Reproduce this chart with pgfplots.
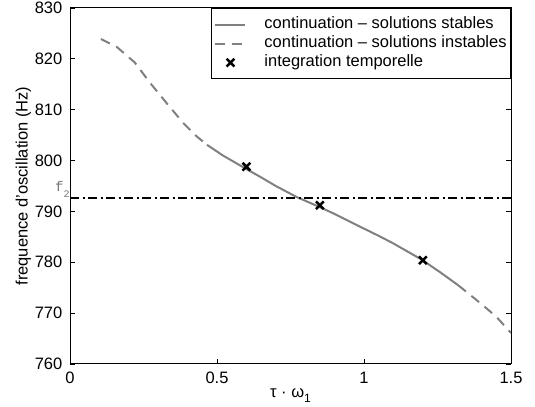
\documentclass[border=0pt]{standalone}
\usepackage{fontspec}
\setmainfont{Liberation Sans}
\newfontfamily\monofont{Liberation Mono}
\usepackage{pgfplots}
\pgfplotsset{compat=1.18}
\definecolor{cgray}{RGB}{128,128,128}
\pgfplotsset{
  lineleg/.style={legend image code/.code={\draw[##1] (0bp,0bp) -- (30bp,0bp); \path[draw=none] (0bp,0bp) -- (48bp,0bp);}},
  markleg/.style={legend image code/.code={\draw[##1] plot coordinates {(15bp,0bp)}; \path[draw=none] (0bp,0bp) -- (48bp,0bp);}},
}
\begin{document}
\fontsize{16.5bp}{19bp}\selectfont
\begin{tikzpicture}
\begin{axis}[
  scale only axis,
  width=441bp, height=356bp,
  xmin=0, xmax=1.5, ymin=760, ymax=830,
  xtick={0,0.5,1,1.5}, ytick={760,770,...,830},
  xticklabels={0,0.5,1,1.5},
  yticklabels={760,770,780,790,800,810,820,830},
  tick label style={font=\fontsize{16.5bp}{19bp}\selectfont},
  xticklabel style={yshift=-2.5bp},
  yticklabel style={xshift=-2bp},
  tick align=inside, tick pos=both,
  major tick length=5bp,
  axis line style={line width=1bp},
  every tick/.style={black, line width=0.8bp},
  xlabel={τ · ω\raisebox{-5bp}{\fontsize{12bp}{13bp}\selectfont 1}},
  ylabel={frequence d'oscillation (Hz)},
  label style={font=\fontsize{16.5bp}{19bp}\selectfont},
  xlabel style={at={(axis description cs:0.5,-0.093)}, anchor=base},
  ylabel style={at={(axis description cs:-0.106,0.5)}, anchor=center},
  legend style={at={(1,1)}, anchor=north east, draw=black, line width=0.8bp,
    font=\fontsize{16.5bp}{19bp}\selectfont, row sep=1.5bp, inner xsep=3bp, inner ysep=7.5bp,
    nodes={inner xsep=1bp, inner ysep=1bp, text height=12bp, text depth=3.5bp},
    cells={anchor=west}},
  legend cell align=left,
  clip mode=individual,
]
\addplot[cgray, line width=2bp, lineleg] coordinates {
(0.466,803.1) (0.52,801.0) (0.595,798.5) (0.65,796.7) (0.70,795.0) (0.772,792.8)
(0.844,791.0) (0.90,789.5) (0.997,786.7) (1.05,785.2) (1.10,783.7) (1.197,780.5) (1.26,778.0) (1.32,775.5)};
\addlegendentry{continuation -- solutions stables}
\addplot[cgray, line width=2bp, dash pattern=on 10bp off 7bp, lineleg] coordinates {
(0.105,823.9) (0.16,822.3) (0.22,819.3) (0.272,815.3) (0.33,811.2) (0.385,807.4) (0.43,804.8) (0.466,803.1)};
\addlegendentry{continuation -- solutions instables}
\addplot[only marks, mark=x, mark size=5.5bp, black, line width=2.5bp, markleg] coordinates {
(0.6,798.8) (0.85,791.2) (1.2,780.4)};
\addlegendentry{integration temporelle}
\addplot[cgray, line width=2bp, dash pattern=on 10bp off 7bp, forget plot] coordinates {
(1.32,775.5) (1.395,772.0) (1.45,769.3) (1.497,766.3) (1.5,766.1)};
\addplot[black, line width=2.2bp, dash pattern=on 9bp off 3.5bp on 2bp off 3.5bp, forget plot] coordinates {
(0,792.7) (1.5,792.7)};
\node[anchor=base west, inner sep=0pt, xshift=-15bp, yshift=6bp, text=gray!90!black, font={\monofont\fontsize{14bp}{15bp}\selectfont}] at (axis cs:0,792.7) {f\raisebox{-6bp}{\fontsize{10bp}{11bp}\selectfont 2}};
\end{axis}
\pgfresetboundingbox
\path ([shift={(-70bp,-43bp)}]current axis.south west) rectangle ([shift={(24bp,8bp)}]current axis.north east);
\end{tikzpicture}
\end{document}
